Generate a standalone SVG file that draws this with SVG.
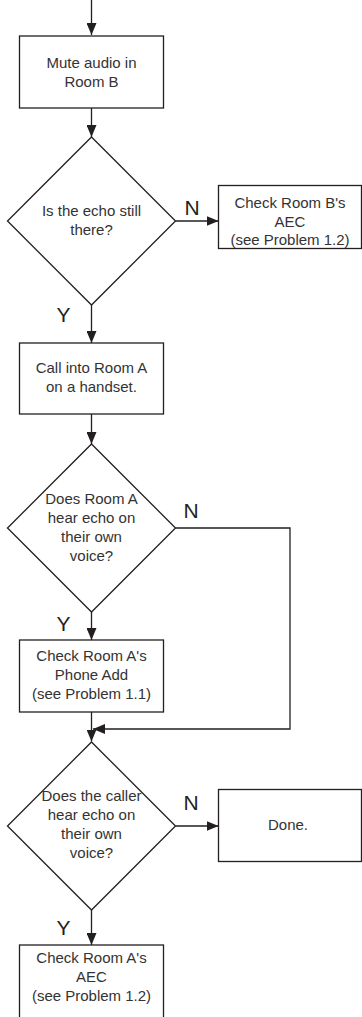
<svg xmlns="http://www.w3.org/2000/svg" width="362" height="1017" viewBox="0 0 362 1017">
<style>
.shape{fill:#fff;stroke:#231f20;stroke-width:1.3}
.conn{fill:none;stroke:#231f20;stroke-width:1.3}
.t{font-family:"Liberation Sans",Arial,sans-serif;font-size:15px;fill:#333;text-anchor:middle}
.lbl{font-family:"Liberation Sans",Arial,sans-serif;font-size:21px;fill:#231f20;text-anchor:middle}
</style>
<defs>
<marker id="ah" markerUnits="userSpaceOnUse" markerWidth="12" markerHeight="10" refX="12" refY="5" orient="auto">
<path d="M0,0 L12,5 L0,10 Z" fill="#231f20"/>
</marker>
</defs>
<g id="connectors">
<path class="conn" d="M91.5,0 V35" marker-end="url(#ah)"/>
<path class="conn" d="M91.5,108 V137" marker-end="url(#ah)"/>
<path class="conn" d="M175.5,221 H218.5" marker-end="url(#ah)"/>
<path class="conn" d="M91.5,305 V343" marker-end="url(#ah)"/>
<path class="conn" d="M91.5,414 V444" marker-end="url(#ah)"/>
<path class="conn" d="M175.5,528 H290 V729 H93" marker-end="url(#ah)"/>
<path class="conn" d="M91.5,612 V640" marker-end="url(#ah)"/>
<path class="conn" d="M91.5,712 V741.5" marker-end="url(#ah)"/>
<path class="conn" d="M175.5,826 H218.5" marker-end="url(#ah)"/>
<path class="conn" d="M91.5,910 V945" marker-end="url(#ah)"/>
<text class="lbl" x="192" y="215">N</text>
<text class="lbl" x="63.5" y="322">Y</text>
<text class="lbl" x="191" y="518">N</text>
<text class="lbl" x="63.5" y="631">Y</text>
<text class="lbl" x="191" y="810">N</text>
<text class="lbl" x="63.5" y="935">Y</text>
</g>
<g id="mute">
<rect class="shape" x="19.5" y="36" width="144" height="72"/>
<text class="t" x="91.5" y="68">Mute audio in</text>
<text class="t" x="91.5" y="87">Room B</text>
</g>
<g id="echo-still">
<path class="shape" d="M91.5,137 L175.5,221 L91.5,305 L7.5,221 Z"/>
<text class="t" x="91.5" y="216">Is the echo still</text>
<text class="t" x="91.5" y="235">there?</text>
</g>
<g id="check-b-aec">
<rect class="shape" x="218.5" y="185.5" width="143" height="63"/>
<text class="t" x="290" y="208">Check Room B's</text>
<text class="t" x="290" y="227">AEC</text>
<text class="t" x="290" y="245">(see Problem 1.2)</text>
</g>
<g id="call-a">
<rect class="shape" x="19.5" y="343" width="144" height="71"/>
<text class="t" x="91.5" y="373">Call into Room A</text>
<text class="t" x="91.5" y="392">on a handset.</text>
</g>
<g id="room-a-echo">
<path class="shape" d="M91.5,444 L175.5,528 L91.5,612 L7.5,528 Z"/>
<text class="t" x="91.5" y="504">Does Room A</text>
<text class="t" x="91.5" y="523">hear echo on</text>
<text class="t" x="91.5" y="542">their own</text>
<text class="t" x="91.5" y="561">voice?</text>
</g>
<g id="check-a-phone">
<rect class="shape" x="19.5" y="640" width="144" height="72"/>
<text class="t" x="91.5" y="661">Check Room A's</text>
<text class="t" x="91.5" y="680">Phone Add</text>
<text class="t" x="91.5" y="699">(see Problem 1.1)</text>
</g>
<g id="caller-echo">
<path class="shape" d="M91.5,742 L175.5,826 L91.5,910 L7.5,826 Z"/>
<text class="t" x="91.5" y="801">Does the caller</text>
<text class="t" x="91.5" y="820">hear echo on</text>
<text class="t" x="91.5" y="839">their own</text>
<text class="t" x="91.5" y="858">voice?</text>
</g>
<g id="done">
<rect class="shape" x="218.5" y="789.5" width="143" height="72"/>
<text class="t" x="288" y="830">Done.</text>
</g>
<g id="check-a-aec">
<rect class="shape" x="19.5" y="945" width="144" height="80"/>
<text class="t" x="91.5" y="963">Check Room A's</text>
<text class="t" x="91.5" y="982">AEC</text>
<text class="t" x="91.5" y="1001">(see Problem 1.2)</text>
</g>
</svg>
